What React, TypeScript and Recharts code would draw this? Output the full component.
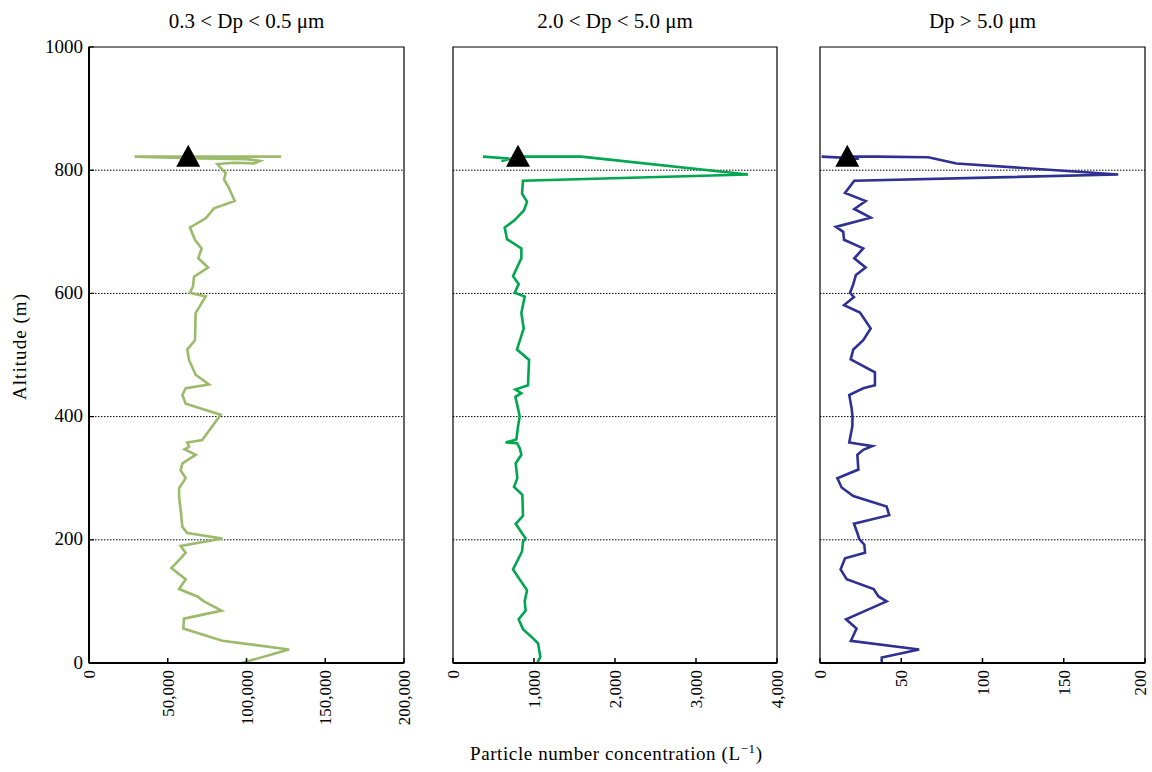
import React from 'react';
import { LineChart, Line, XAxis, YAxis, ReferenceLine, ReferenceArea, ReferenceDot } from 'recharts';

// ---------- Data ----------
const altitudeA = [0, 22, 36, 56, 72, 85, 100, 108, 120, 136, 154, 170, 179, 190, 202, 211, 221, 248, 270, 284, 300, 313, 324, 338, 347, 351, 358, 362, 403, 421, 435, 446, 452, 468, 492, 509, 524, 568, 595, 601, 611, 627, 642, 657, 673, 687, 707, 722, 738, 750, 773, 785, 795, 810, 812, 811, 815, 818, 819, 822, 822];
const concA = [97000, 127000, 84700, 59900, 60300, 84200, 73000, 68800, 57200, 61400, 52300, 58200, 61400, 58200, 84700, 62400, 59300, 58200, 57200, 57200, 61400, 58200, 59300, 67700, 60700, 63500, 62400, 71900, 83600, 61400, 59300, 61400, 76200, 67700, 63500, 62400, 67300, 67700, 74100, 64100, 66000, 66700, 75600, 69400, 71500, 67300, 64100, 74100, 79400, 92500, 88500, 85700, 86800, 81500, 92000, 105000, 108500, 100000, 72000, 29000, 122000];

const altitudeB = [0, 10, 32, 40, 55, 71, 85, 100, 118, 152, 181, 197, 202, 226, 239, 273, 286, 300, 324, 338, 349, 357, 358, 363, 384, 400, 413, 432, 438, 444, 451, 492, 509, 543, 568, 595, 601, 615, 628, 657, 673, 688, 707, 719, 735, 749, 762, 783, 793, 822, 822, 815, 819, 822];
const concB = [1040, 1078, 1050, 988, 864, 811, 897, 885, 914, 741, 852, 864, 897, 774, 864, 856, 753, 794, 774, 844, 823, 790, 650, 782, 803, 823, 803, 770, 844, 770, 926, 939, 790, 873, 844, 885, 762, 811, 741, 844, 844, 667, 638, 762, 877, 914, 852, 864, 3643, 1585, 830, 600, 690, 370];

const altitudeC = [0, 9, 22, 36, 56, 71, 100, 108, 120, 136, 152, 170, 179, 192, 201, 211, 226, 240, 254, 271, 285, 300, 314, 338, 346, 352, 358, 384, 400, 413, 435, 446, 451, 472, 493, 509, 524, 543, 569, 581, 594, 601, 615, 630, 642, 657, 673, 687, 700, 708, 723, 737, 750, 763, 783, 793, 811, 821, 822, 822, 815, 819, 822];
const concC = [38, 38, 61, 19, 22.5, 16, 41, 36, 33, 16.4, 12.7, 15.4, 27.7, 27.3, 24.2, 23, 20.9, 42.6, 41, 20.5, 13.3, 10.7, 23.6, 23, 26.6, 32.2, 18, 19.9, 20, 19.5, 18, 26.6, 33.8, 33.8, 18.9, 20.5, 26.6, 31.2, 24.6, 14.8, 20.9, 18.5, 20.5, 22.1, 28.1, 21.1, 26.6, 14.8, 14.3, 9.8, 31.2, 21.1, 28.1, 15.4, 21.1, 183.5, 84, 66.6, 34.9, 20, 12, 24, 1];

const markerAltitudes = [822, 822, 822];
const markerConcs = [63000, 803, 16.8];

const panelTitles = ['0.3 < Dp < 0.5 μm', '2.0 < Dp < 5.0 μm', 'Dp > 5.0 μm'];
const xTicksA = [0, 50000, 100000, 150000, 200000];
const xTicksB = [0, 1000, 2000, 3000, 4000];
const xTicksC = [0, 50, 100, 150, 200];
const yTicks = [0, 200, 400, 600, 800, 1000];
const gridAltitudes = [200, 400, 600, 800];
const colors = ['#9bbb6b', '#00a650', '#2e3192'];

// ---------- Layout ----------
const W = 1152;
const H = 772;
const PLOT_TOP = 47;
const PLOT_BOTTOM = 663;
const X_AXIS_H = 60;
const FONT = '"Liberation Serif", "Times New Roman", serif';

const build = (alts: number[], vals: number[]) => alts.map((a, i) => ({ alt: a, v: vals[i] }));

const fmt = (v: number) => v.toLocaleString('en-US');

const XTick = (props: any) => {
  const { x, y, payload } = props;
  return (
    <g>
      <line x1={x} x2={x} y1={y} y2={y - 5} stroke="#000" strokeWidth={1.5} />
      <text
        x={0}
        y={0}
        transform={`translate(${Math.min(x + 6, 1146)},${y + 7}) rotate(-90)`}
        textAnchor="end"
        fontFamily={FONT}
        fontSize={17}
        fill="#000"
      >
        {fmt(payload.value)}
      </text>
    </g>
  );
};

const YTickLabeled = (props: any) => {
  const { x, y, payload } = props;
  return (
    <g>
      <line x1={x} x2={x + 5} y1={y} y2={y} stroke="#000" strokeWidth={1.2} />
      <text x={x - 6} y={y - 1} textAnchor="end" dominantBaseline="central" fontFamily={FONT} fontSize={19} fill="#000">
        {payload.value}
      </text>
    </g>
  );
};

const Triangle = (props: any) => {
  const { cx, cy } = props;
  if (cx == null || cy == null) return null;
  return <polygon points={`${cx},${cy - 12} ${cx - 12},${cy + 10} ${cx + 12},${cy + 10}`} fill="#000" />;
};

type PanelProps = {
  data: { alt: number; v: number }[];
  left: number;
  right: number;
  xMax: number;
  xTicks: number[];
  color: string;
  marker: { x: number; y: number };
  showY: boolean;
};

const Panel = ({ data, left, right, xMax, xTicks, color, marker, showY }: PanelProps) => {
  const yW = showY ? 60 : 0;
  return (
    <div style={{ position: 'absolute', left: 0, top: 0 }}>
      <LineChart
        width={W}
        height={H}
        data={data}
        layout="vertical"
        margin={{ top: PLOT_TOP, bottom: H - PLOT_BOTTOM - X_AXIS_H, left: left - yW, right: W - right }}
      >
        <XAxis
          type="number"
          domain={[0, xMax]}
          ticks={xTicks}
          interval={0}
          height={X_AXIS_H}
          tickSize={0}
          tickMargin={0}
          tickLine={false}
          axisLine={{ stroke: '#000', strokeWidth: 2 }}
          tick={<XTick />}
        />
        <YAxis
          type="number"
          dataKey="alt"
          domain={[0, 1000]}
          reversed
          ticks={yTicks}
          interval={0}
          width={yW}
          tickSize={0}
          tickMargin={0}
          tickLine={false}
          axisLine={{ stroke: '#000', strokeWidth: 2 }}
          tick={showY ? <YTickLabeled /> : false}
        />
        <ReferenceArea x1={0} x2={xMax} y1={0} y2={1000} fill="none" fillOpacity={0} stroke="#000" strokeWidth={1.2} />
        {gridAltitudes.map((g) => (
          <ReferenceLine key={g} y={g} stroke="#000" strokeWidth={1} strokeDasharray="1.5 1.5" />
        ))}
        <Line
          type="linear"
          dataKey="v"
          stroke={color}
          strokeWidth={2.6}
          dot={false}
          isAnimationActive={false}
        />
        <ReferenceDot x={marker.x} y={marker.y} r={10} shape={<Triangle />} />
      </LineChart>
    </div>
  );
};

const panels = [
  { left: 89, right: 404, xMax: 200000, xTicks: xTicksA, data: build(altitudeA, concA) },
  { left: 453, right: 777, xMax: 4000, xTicks: xTicksB, data: build(altitudeB, concB) },
  { left: 820, right: 1145, xMax: 200, xTicks: xTicksC, data: build(altitudeC, concC) },
];

export default function App() {
  return (
    <div style={{ position: 'absolute', left: 0, top: 0, width: W, height: H, background: '#fff', overflow: 'hidden' }}>
      {panels.map((p, i) => (
        <Panel
          key={i}
          data={p.data}
          left={p.left}
          right={p.right}
          xMax={p.xMax}
          xTicks={p.xTicks}
          color={colors[i]}
          marker={{ x: markerConcs[i], y: markerAltitudes[i] }}
          showY={i === 0}
        />
      ))}
      <svg width={W} height={H} style={{ position: 'absolute', left: 0, top: 0, pointerEvents: 'none' }}>
        {panels.map((p, i) => (
          <text
            key={i}
            x={(p.left + p.right) / 2}
            y={28}
            textAnchor="middle"
            fontFamily={FONT}
            fontSize={21}
            fill="#000"
          >
            {panelTitles[i]}
          </text>
        ))}
        <text
          transform="translate(26,347) rotate(-90)"
          textAnchor="middle"
          fontFamily={FONT}
          fontSize={19}
          fill="#000"
          textLength={106}
          lengthAdjust="spacing"
        >
          Altitude (m)
        </text>
        <text x={616} y={760} textAnchor="middle" fontFamily={FONT} fontSize={19} fill="#000" textLength={292} lengthAdjust="spacing">
          Particle number concentration (L
          <tspan dy={-7} fontSize={13}>−1</tspan>
          <tspan dy={7} fontSize={19}>)</tspan>
        </text>
      </svg>
    </div>
  );
}
